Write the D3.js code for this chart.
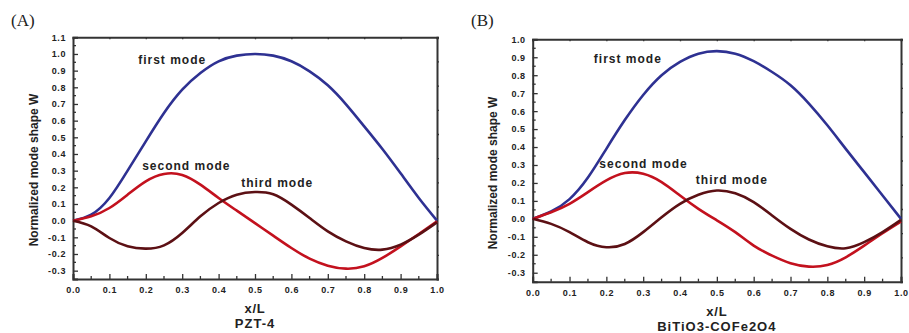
<!DOCTYPE html>
<html>
<head>
<meta charset="utf-8">
<script src="https://cdn.jsdelivr.net/npm/d3@7"></script>
<style>
  body { margin: 0; background: #fff; }
  svg { display: block; }
</style>
</head>
<body>
<div id="chart"></div>
<script>
// x/L positions
var xPos = [0, 0.05, 0.1, 0.15, 0.2, 0.25, 0.3, 0.35, 0.4, 0.45, 0.5,
            0.55, 0.6, 0.65, 0.7, 0.75, 0.8, 0.85, 0.9, 0.95, 1.0];

// panel A - PZT-4
var firstA  = [0, 0.036, 0.136, 0.30, 0.476, 0.646, 0.786, 0.886, 0.956, 0.99, 1.0,
               0.99, 0.956, 0.896, 0.812, 0.698, 0.566, 0.43, 0.284, 0.136, 0];
var secondA = [0, 0.026, 0.076, 0.156, 0.236, 0.28, 0.274, 0.216, 0.136, 0.06, -0.015,
               -0.09, -0.164, -0.228, -0.27, -0.288, -0.274, -0.224, -0.154, -0.08, -0.004];
var thirdA  = [0, -0.034, -0.104, -0.154, -0.168, -0.148, -0.074, 0.026, 0.106, 0.156, 0.172,
               0.158, 0.096, 0.016, -0.064, -0.124, -0.164, -0.174, -0.144, -0.084, -0.01];

// panel B - BiTiO3-COFe2O4
var firstB  = [0, 0.041, 0.11, 0.23, 0.39, 0.55, 0.69, 0.80, 0.874, 0.92, 0.934,
               0.92, 0.878, 0.818, 0.744, 0.642, 0.521, 0.39, 0.26, 0.13, 0];
var secondB = [0, 0.037, 0.084, 0.149, 0.214, 0.255, 0.251, 0.205, 0.13, 0.056, -0.008,
               -0.074, -0.149, -0.205, -0.247, -0.266, -0.257, -0.214, -0.149, -0.08, -0.015];
var thirdB  = [0, -0.028, -0.074, -0.13, -0.158, -0.14, -0.074, 0.009, 0.084, 0.134, 0.158,
               0.142, 0.093, 0.019, -0.056, -0.115, -0.153, -0.164, -0.13, -0.074, -0.006];

var modeNames = ["first mode", "second mode", "third mode"];
var modeColors = ["#2e3192", "#c3111e", "#5c1014"];

var sans = "'Liberation Sans', Arial, sans-serif";

var svg = d3.select("#chart")
    .append("svg")
    .attr("width", 909)
    .attr("height", 333);

function drawPanel(p) {
    var g = svg.append("g");

    var x = d3.scaleLinear().domain([0, 1]).range([p.left, p.right]);
    var y = d3.scaleLinear().domain([-0.35, p.yMax]).range([p.bottom, p.top]);
    var yRight = d3.scaleLinear().domain([0, 1]).range([p.bottom, p.top]);

    var fmt = function(d) { return d.toFixed(1); };

    var yMajor = d3.range(-3, Math.round(p.yMax * 10) + 1).map(d => d / 10);
    var yMinor = d3.range(-3, Math.round(p.yMax * 10)).map(d => d / 10 + 0.05);
    var xMajor = d3.range(0, 11).map(d => d / 10);
    var xMinor = d3.range(0, 10).map(d => d / 10 + 0.05);

    // left axis
    var ya = g.append("g")
        .attr("transform", `translate(${p.left},0)`)
        .call(d3.axisLeft(y).tickValues(yMajor).tickSize(-5).tickPadding(7).tickFormat(fmt));
    ya.append("g").selectAll("line")
        .data(yMinor)
        .enter()
        .append("line")
        .attr("x1", 0).attr("x2", 3)
        .attr("y1", d => y(d)).attr("y2", d => y(d));

    // bottom axis
    var xa = g.append("g")
        .attr("transform", `translate(0,${p.bottom})`)
        .call(d3.axisBottom(x).tickValues(xMajor).tickSize(-5).tickPadding(8).tickFormat(fmt));
    xa.append("g").selectAll("line")
        .data(xMinor)
        .enter()
        .append("line")
        .attr("y1", 0).attr("y2", -3)
        .attr("x1", d => x(d)).attr("x2", d => x(d));

    // top + right frame with small ticks
    g.append("g")
        .attr("transform", `translate(0,${p.top})`)
        .call(d3.axisTop(x).tickValues(xMajor).tickSize(-2).tickFormat(""));
    g.append("g")
        .attr("transform", `translate(${p.right},0)`)
        .call(d3.axisRight(yRight).ticks(10).tickSize(2).tickFormat(""));

    g.selectAll(".domain")
        .attr("stroke", "#333")
        .attr("stroke-width", 2);
    g.selectAll("line")
        .attr("stroke", "#333")
        .attr("stroke-width", 1.3);
    g.selectAll(".tick text")
        .style("font-family", sans)
        .style("font-size", "9px")
        .style("font-weight", "bold")
        .style("letter-spacing", "0.6px")
        .attr("fill", "#222");

    // curves
    var line = d3.line()
        .x((d, i) => x(xPos[i]))
        .y(d => y(d))
        .curve(d3.curveNatural);

    p.series.forEach(function(s, i) {
        g.append("path")
            .attr("d", line(s))
            .attr("fill", "none")
            .attr("stroke", modeColors[i])
            .attr("stroke-width", 2.6);
    });

    // mode labels
    p.labels.forEach(function(l, i) {
        g.append("text")
            .attr("x", x(l[0]))
            .attr("y", y(l[1]))
            .style("font-family", sans)
            .style("font-size", "12px")
            .style("font-weight", "bold")
            .style("letter-spacing", "1px")
            .attr("fill", "#222")
            .text(modeNames[i]);
    });

    // axis titles
    var cx = (p.left + p.right) / 2;
    g.append("text")
        .attr("x", cx)
        .attr("y", p.bottom + 34)
        .attr("text-anchor", "middle")
        .style("font-family", sans)
        .style("font-size", "13px")
        .style("font-weight", "bold")
        .style("letter-spacing", "0.8px")
        .attr("fill", "#222")
        .text("x/L");
    g.append("text")
        .attr("x", cx)
        .attr("y", p.bottom + 49)
        .attr("text-anchor", "middle")
        .style("font-family", sans)
        .style("font-size", "13px")
        .style("font-weight", "bold")
        .style("letter-spacing", "1px")
        .attr("fill", "#222")
        .text(p.material);

    g.append("text")
        .attr("transform", `translate(${p.yLabelX}, ${p.yLabelY}) rotate(-90)`)
        .attr("text-anchor", "middle")
        .style("font-family", sans)
        .style("font-size", "12px")
        .style("font-weight", "bold")
        .attr("fill", "#222")
        .text("Normalized mode shape W");

    g.append("text")
        .attr("x", p.tagX)
        .attr("y", 26)
        .style("font-family", "'Liberation Serif', 'Times New Roman', serif")
        .style("font-size", "17px")
        .attr("fill", "#222")
        .text(p.tag);
}

drawPanel({
    left: 73, right: 437, top: 37.3, bottom: 279, yMax: 1.1,
    series: [firstA, secondA, thirdA],
    labels: [[0.179, 0.94], [0.19, 0.305], [0.462, 0.2]],
    material: "PZT-4",
    yLabelX: 38, yLabelY: 170,
    tag: "(A)", tagX: 11
});

drawPanel({
    left: 532.7, right: 901, top: 39.3, bottom: 281.7, yMax: 1.0,
    series: [firstB, secondB, thirdB],
    labels: [[0.166, 0.868], [0.181, 0.286], [0.443, 0.193]],
    material: "BiTiO3-COFe2O4",
    yLabelX: 497, yLabelY: 173,
    tag: "(B)", tagX: 471
});
</script>
</body>
</html>
